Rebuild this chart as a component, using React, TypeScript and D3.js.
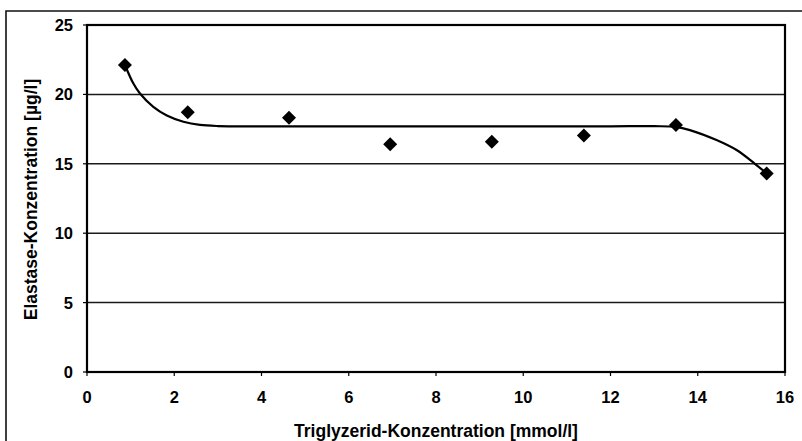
import React from "react";
import * as d3 from "d3";

const xTicks = [0, 2, 4, 6, 8, 10, 12, 14, 16];
const yTicks = [0, 5, 10, 15, 20, 25];
const gridValues = [5, 10, 15, 20];

const triglyceride = [0.87, 2.31, 4.63, 6.95, 9.28, 11.39, 13.5, 15.58];
const elastase = [22.12, 18.71, 18.32, 16.4, 16.59, 17.03, 17.79, 14.31];

const trendX = [0.87, 1.06, 1.21, 1.52, 1.83, 2.21, 2.59, 3.0, 4, 6, 8, 10, 12, 13.0, 13.5, 13.82, 14.43, 14.89, 15.31, 15.58];
const trendY = [22.12, 20.8, 20.08, 19.1, 18.48, 18.03, 17.8, 17.72, 17.7, 17.7, 17.7, 17.7, 17.7, 17.71, 17.66, 17.43, 16.71, 15.99, 15.0, 14.31];

const xTitle = "Triglyzerid-Konzentration [mmol/l]";
const yTitle = "Elastase-Konzentration [µg/l]";

const W = 802;
const H = 441;
const m = { left: 87, right: 785, top: 25, bottom: 372 };

export default function App() {
  const x = d3.scaleLinear().domain([0, 16]).range([m.left, m.right]);
  const y = d3.scaleLinear().domain([0, 25]).range([m.bottom, m.top]);
  const trend = d3
    .line<number>()
    .x((d, i) => x(trendX[i]))
    .y((d, i) => y(trendY[i]))
    .curve(d3.curveCatmullRom.alpha(0.5))(trendY);
  const font = "'Liberation Sans', Arial, sans-serif";
  return (
    <svg
      width={W}
      height={H}
      style={{ position: "absolute", left: 0, top: 0, background: "#fff" }}
      fontFamily={font}
    >
      <rect x={0} y={0} width={W} height={H} fill="#fff" />
      <path d={`M6,${H + 2} V11 H${W + 2}`} fill="none" stroke="#111" strokeWidth={1.6} />
      {gridValues.map((v) => (
        <line key={v} x1={m.left} x2={m.right} y1={y(v)} y2={y(v)} stroke="#1a1a1a" strokeWidth={1.5} />
      ))}
      <rect
        x={m.left}
        y={m.top}
        width={m.right - m.left}
        height={m.bottom - m.top}
        fill="none"
        stroke="#000"
        strokeWidth={2.2}
      />
      {yTicks.map((v) => (
        <g key={v}>
          <line x1={m.left - 4} x2={m.left} y1={y(v)} y2={y(v)} stroke="#000" strokeWidth={1.2} />
          <text x={m.left - 14} y={y(v)} dy="0.36em" textAnchor="end" fontSize={16.5} fontWeight="bold" fill="#000">
            {v}
          </text>
        </g>
      ))}
      {xTicks.map((v) => (
        <g key={v}>
          <line x1={x(v)} x2={x(v)} y1={m.bottom} y2={m.bottom + 4} stroke="#000" strokeWidth={1.2} />
          <text x={x(v)} y={403} textAnchor="middle" fontSize={16.5} fontWeight="bold" fill="#000">
            {v}
          </text>
        </g>
      ))}
      <path d={trend || ""} fill="none" stroke="#000" strokeWidth={2.2} />
      {triglyceride.map((tx, i) => {
        const cx = x(tx);
        const cy = y(elastase[i]);
        const r = 7;
        return (
          <path
            key={i}
            d={`M${cx},${cy - r} L${cx + r},${cy} L${cx},${cy + r} L${cx - r},${cy} Z`}
            fill="#000"
          />
        );
      })}
      <text
        x={(m.left + m.right) / 2}
        y={437}
        textAnchor="middle"
        fontSize={17.5}
        fontWeight="bold"
        fill="#000"
      >
        {xTitle}
      </text>
      <text
        transform={`translate(37,${(m.top + m.bottom) / 2 + 1}) rotate(-90)`}
        textAnchor="middle"
        fontSize={17.5}
        fontWeight="bold"
        fill="#000"
      >
        {yTitle}
      </text>
    </svg>
  );
}
